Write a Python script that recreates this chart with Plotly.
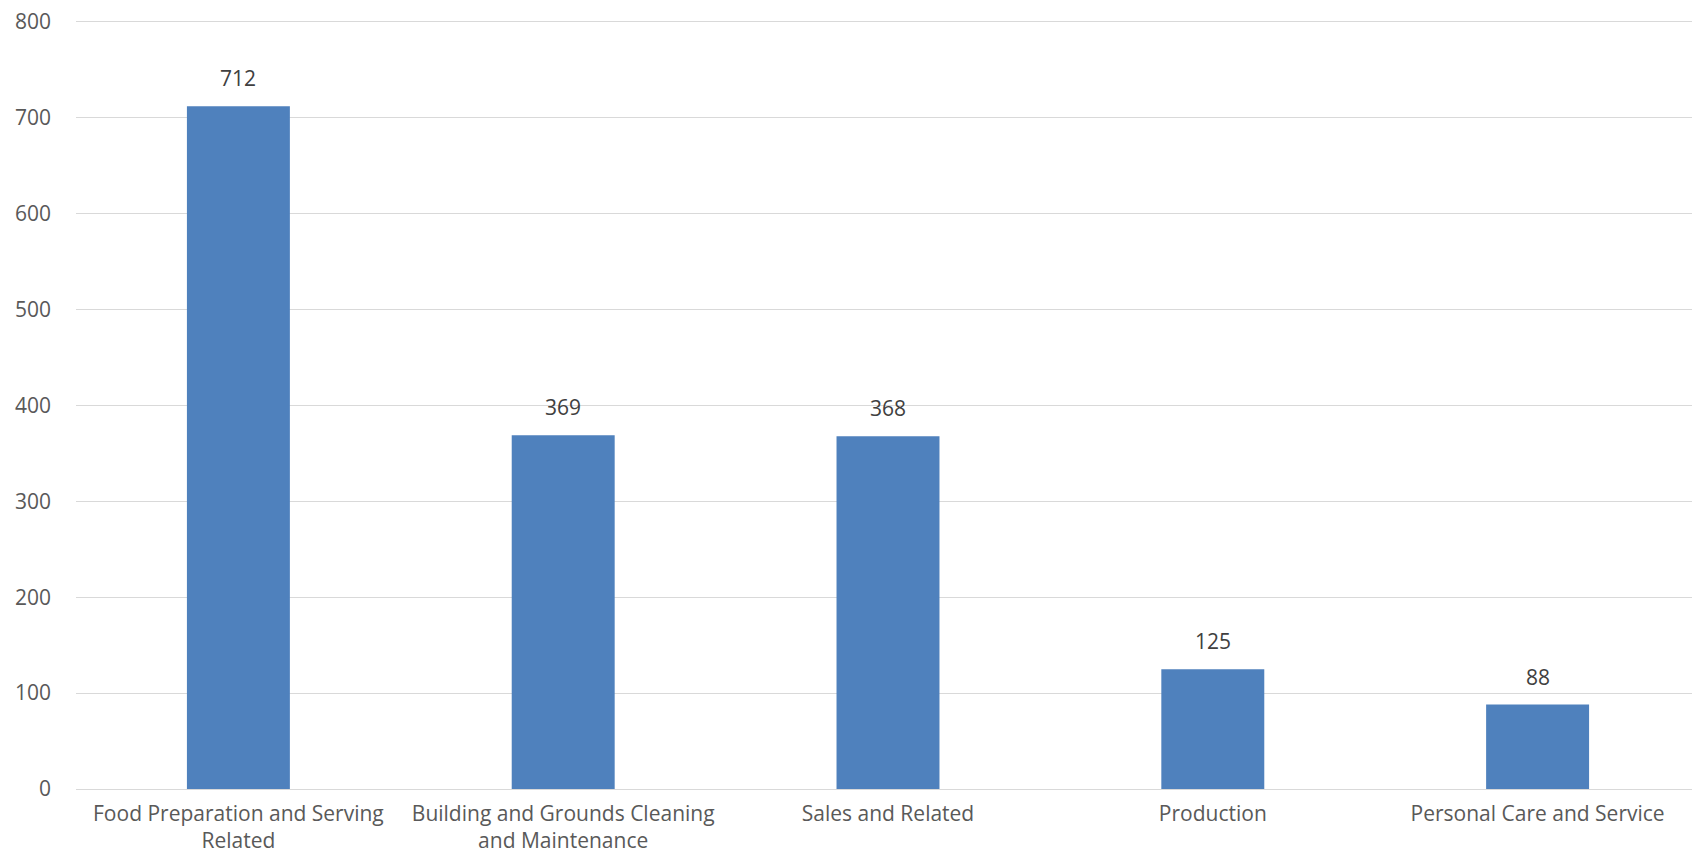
import plotly.graph_objects as go

categories = [
    "Food Preparation and Serving<br>Related",
    "Building and Grounds Cleaning<br>and Maintenance",
    "Sales and Related",
    "Production",
    "Personal Care and Service",
]
values = [712, 369, 368, 125, 88]
y_ticks = [0, 100, 200, 300, 400, 500, 600, 700, 800]

FONT = "'Open Sans', sans-serif"

fig = go.Figure()
fig.add_trace(go.Bar(
    x=categories,
    y=values,
    marker=dict(color="#4F81BD", line=dict(width=0)),
    hoverinfo="x+y",
))

for c, v in zip(categories, values):
    fig.add_annotation(
        x=c, y=v, text=str(v), showarrow=False,
        yanchor="bottom", yshift=12,
        font=dict(family=FONT, size=21, color="#404040"),
    )

# page body has an 8px margin, so the figure is sized/offset to compensate
fig.update_layout(
    width=1692, height=847,
    margin=dict(l=68, r=0, t=12, b=66, pad=0),
    paper_bgcolor="white", plot_bgcolor="white",
    bargap=0.683,
    showlegend=False,
    font=dict(family=FONT, size=21, color="#595959"),
)
fig.update_xaxes(
    showgrid=False, showline=False, zeroline=False, automargin=False,
    ticks="", tickfont=dict(family=FONT, size=21, color="#595959"),
    ticklabelstandoff=10, ticklabeloverflow="allow",
)
fig.update_yaxes(
    range=[0, 802], tickvals=y_ticks, automargin=False,
    showgrid=True, gridcolor="#D9D9D9", gridwidth=1,
    zeroline=True, zerolinecolor="#D9D9D9", zerolinewidth=1,
    showline=False, ticks="",
    tickfont=dict(family=FONT, size=21, color="#595959"),
    ticklabelstandoff=24, ticklabeloverflow="allow",
)

fig.write_html("out.html")
